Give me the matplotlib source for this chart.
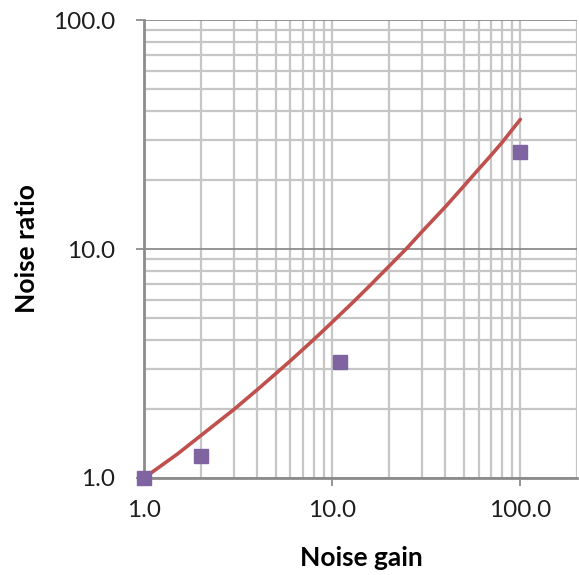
import matplotlib
matplotlib.use("Agg")
import matplotlib.pyplot as plt
from matplotlib.ticker import FixedLocator, FuncFormatter, NullFormatter

# Measured data (squares)
meas_gain = [1.0, 2.0, 11.0, 100.0]
meas_ratio = [1.0, 1.25, 3.2, 26.5]

# Model curve
curve_gain = [1, 1.5, 2, 3, 4, 5, 6, 8, 10, 13, 16, 20, 25, 30, 40, 50, 60, 70, 80, 100]
curve_ratio = [1.0, 1.27, 1.53, 1.99, 2.43, 2.85, 3.25, 4.03, 4.79, 5.89, 6.97, 8.39,
               10.1, 11.9, 15.3, 18.8, 22.3, 25.7, 29.2, 36.8]

x_ticks = [1, 10, 100]
y_ticks = [1, 10, 100]

plt.rcParams['font.family'] = ['Lato', 'DejaVu Sans']

fig = plt.figure(figsize=(5.79, 5.75), dpi=100)
ax = fig.add_axes([0.2487, 0.1687, 0.9965 - 0.2487, 0.9652 - 0.1687])

ax.set_xscale('log')
ax.set_yscale('log')
ax.set_xlim(1, 200)
ax.set_ylim(1, 100)

minor_x = [m * d for d in (1, 10, 100) for m in range(2, 10) if m * d <= 200]
minor_y = [m * d for d in (1, 10) for m in range(2, 10)]
ax.xaxis.set_major_locator(FixedLocator(x_ticks))
ax.yaxis.set_major_locator(FixedLocator(y_ticks))
ax.xaxis.set_minor_locator(FixedLocator(minor_x))
ax.yaxis.set_minor_locator(FixedLocator(minor_y))
ax.xaxis.set_minor_formatter(NullFormatter())
ax.yaxis.set_minor_formatter(NullFormatter())
fmt = FuncFormatter(lambda v, p: f"{v:.1f}")
ax.xaxis.set_major_formatter(fmt)
ax.yaxis.set_major_formatter(fmt)

light = '#c6c6c6'
dark = '#8c8c8c'
ax.grid(True, which='minor', axis='both', color=light, linewidth=1.6)
ax.grid(True, which='major', axis='x', color=light, linewidth=1.6)
ax.grid(True, which='major', axis='y', color=dark, linewidth=1.3)
ax.set_axisbelow(True)

for s in ('top', 'right'):
    ax.spines[s].set_visible(False)
for s in ('left', 'bottom'):
    ax.spines[s].set_color(dark)
    ax.spines[s].set_linewidth(2.0)

ax.tick_params(which='major', direction='out', length=6, width=1.3, color=dark,
               labelsize=17.5, labelcolor='#1e1e1e')
ax.tick_params(axis='x', which='major', pad=10)
ax.tick_params(axis='y', which='major', pad=15)
ax.tick_params(which='minor', length=0)

ax.plot(curve_gain, curve_ratio, color='#C0504D', linewidth=2.6, zorder=3,
        clip_on=False, solid_capstyle='round')
ax.plot(meas_gain, meas_ratio, linestyle='none', marker='s', markersize=9.5,
        color='#8064A2', zorder=4, clip_on=False)

ax.set_xlabel('Noise gain', fontsize=19, fontweight='bold')
ax.set_ylabel('Noise ratio', fontsize=19, fontweight='bold')
ax.xaxis.label.set_va('center')
ax.yaxis.label.set_va('center')
ax.xaxis.set_label_coords(0.501, -0.1747)
ax.yaxis.set_label_coords(-0.270, 0.5)

fig.savefig('out.png', dpi=100)
